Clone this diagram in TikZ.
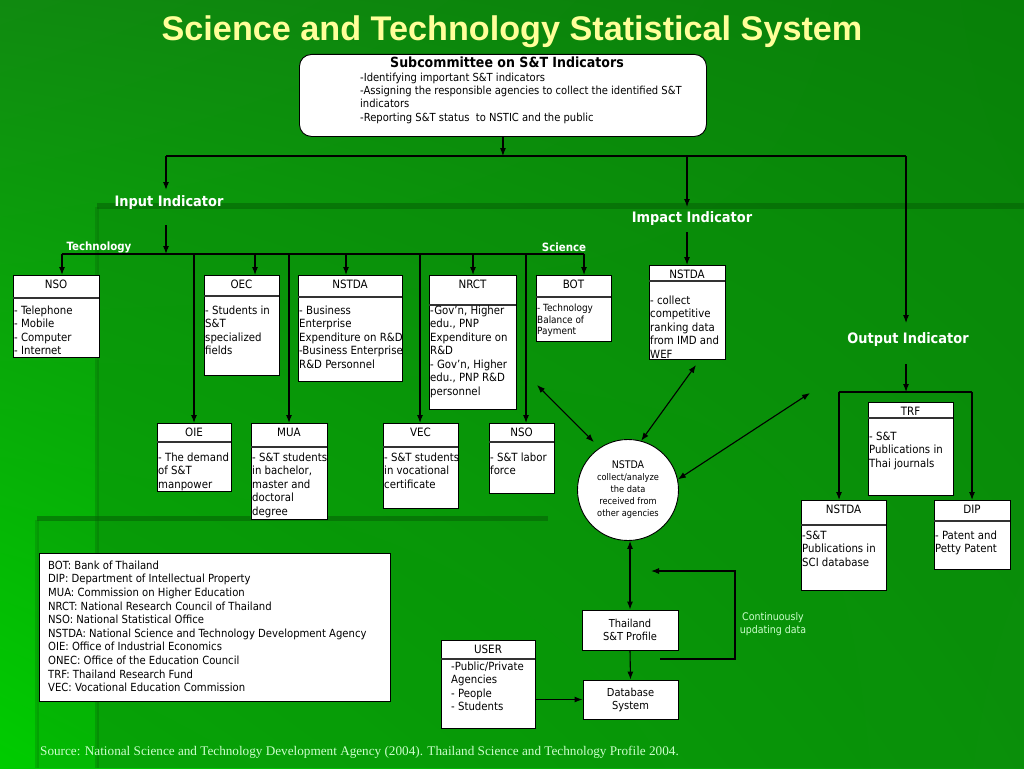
\documentclass[tikz,border=0pt]{standalone}
\usepackage{fontspec}
\setmainfont{DejaVu Sans Condensed}
\newfontfamily\titlefont{Liberation Sans}
\newfontfamily\srcfont{Liberation Serif}
\usetikzlibrary{arrows.meta,calc,shadings}
\definecolor{bgUL}{RGB}{16,138,16}
\definecolor{bgUR}{RGB}{8,128,8}
\definecolor{bgLL}{RGB}{0,204,0}
\definecolor{bgLR}{RGB}{10,150,10}
\definecolor{bgDark}{RGB}{5,100,5}
\definecolor{bgMid}{RGB}{10,140,10}
\definecolor{titleyellow}{RGB}{255,255,153}
\definecolor{palegreen}{RGB}{204,255,204}
\tikzset{
  box/.style={draw=black, fill=white, line width=0.9pt, inner sep=0pt},
  sep/.style={line width=1.4pt, draw=black!80},
  hdr/.style={font=\fontsize{11.5}{13}\selectfont, inner sep=0pt},
  bodyfnt/.style={font=\fontsize{11.3}{13.5}\selectfont},
  bodyx/.style={},
  body/.style={bodyfnt, inner sep=0pt, align=left, anchor=north west, bodyx},
  arr/.style={-{Latex[length=8pt,width=6pt]}, line width=1.1pt},
  darr/.style={{Latex[length=8pt,width=6pt]}-{Latex[length=8pt,width=6pt]}, line width=1.1pt},
  ln/.style={line width=1.1pt},
  lbl/.style={text=white, font=\bfseries\fontsize{14.4}{16}\selectfont, inner sep=1pt},
  smalllbl/.style={text=white, font=\bfseries\fontsize{11.4}{13}\selectfont, inner sep=1pt},
}
% name, x1, y1, x2, y2, yline, yfirst, title, body
\newcommand\ibox[9]{%
  \node[box, anchor=north west, minimum width={(#4-#2)*1pt}, minimum height={(#5-#3)*1pt}] (#1) at (#2,#3) {};
  \draw[sep] (#2,#6) -- (#4,#6);
  \node[hdr] (#1-t) at ({(#2+#4)/2},{#3+9.5}) {#8};
  \node[body] (#1-b) at ({#2+1},{#7-5.5}) {\strut #9};
}
\begin{document}
\begin{tikzpicture}[x=1pt,y=-1pt, every node/.style={inner sep=0pt}]
\useasboundingbox (0,0) rectangle (1024,768);
% background
\shade[upper left=bgUL, upper right=bgUR, lower left=bgLL, lower right=bgLR] (0,0) rectangle (1024,768);
\fill[bgMid, opacity=0.45] (97,207) rectangle (1024,768);
\fill[bgMid, opacity=0.25] (37,520) rectangle (1024,768);
\fill[bgDark, opacity=0.6] (97,203) rectangle (1024,209);
\fill[bgDark, opacity=0.6] (37,516) rectangle (548,521);
\fill[bgDark, opacity=0.3] (95,207) rectangle (99,768);
\fill[bgDark, opacity=0.25] (35,520) rectangle (39,768);

% title
\node[font=\titlefont\bfseries\fontsize{34.2}{38}\selectfont, text=titleyellow] (title) at (512,32) {Science and Technology Statistical System};

% subcommittee
\node[draw=black, fill=white, rounded corners=12pt, line width=0.9pt, anchor=north west, minimum width=407pt, minimum height=82pt] (sub) at (299,54) {};
\node[font=\bfseries\fontsize{14}{16}\selectfont] (sub-t) at (507,62) {Subcommittee on S\&T Indicators};
\node[body, font=\fontsize{11.1}{13.4}\selectfont] (sub-b) at (360,71.5) {\strut -Identifying important S\&T indicators\\-Assigning the responsible agencies to collect the identified S\&T\\indicators\\-Reporting S\&T status\ \ to NSTIC and the public};

% labels
\node[lbl] (inp) at (169,203) {Input Indicator};
\node[lbl] (imp) at (692,219) {Impact Indicator};
\node[lbl] (outp) at (908,340) {Output Indicator};
\node[smalllbl] (tech) at (99,247) {Technology};
\node[smalllbl] (sci) at (564,247) {Science};

% input boxes, top row
\ibox{nso}{13}{275}{99}{357}{298}{310}{NSO}{- Telephone\\- Mobile\\- Computer\\- Internet}
\ibox{oec}{204}{275}{279}{375}{296}{310}{OEC}{- Students in\\S\&T\\specialized\\fields}
\ibox{nstdaB}{298}{275}{402}{381}{297}{310}{NSTDA}{- Business\\Enterprise\\Expenditure on R\&D\\-Business Enterprise\\R\&D Personnel}
\ibox{nrct}{429}{275}{516}{409}{305}{310}{NRCT}{-Gov’n, Higher\\edu., PNP\\Expenditure on\\R\&D\\- Gov’n, Higher\\edu., PNP R\&D\\personnel}
\tikzset{bodyfnt/.style={font=\fontsize{9.9}{11.5}\selectfont}}
\ibox{bot}{536}{275}{611}{341}{297}{309}{BOT}{- Technology\\Balance of\\Payment}
\tikzset{bodyfnt/.style={font=\fontsize{11.3}{13.5}\selectfont}}
% bottom row
\ibox{oie}{157}{423}{231}{491}{442}{457}{OIE}{- The demand\\of S\&T\\manpower}
\ibox{mua}{251}{423}{327}{519}{447}{457}{MUA}{- S\&T students\\in bachelor,\\master and\\doctoral\\degree}
\ibox{vec}{383}{423}{458}{508}{447}{457}{VEC}{- S\&T students\\in vocational\\certificate}
\ibox{nsoL}{489}{423}{554}{493}{442}{457}{NSO}{- S\&T labor\\force}
% impact
\ibox{nstdaI}{649}{265}{725}{359}{281}{300}{NSTDA}{- collect\\competitive\\ranking data\\from IMD and\\WEF}
% output
\ibox{trf}{868}{402}{953}{495}{418}{436}{TRF}{- S\&T\\Publications in\\Thai journals}
\ibox{nstdaS}{801}{500}{886}{590}{525}{535}{NSTDA}{-S\&T\\Publications in\\SCI database}
\ibox{dip}{934}{500}{1010}{569}{521}{535}{DIP}{- Patent and\\Petty Patent}
% user
\tikzset{bodyx/.style={xshift=9pt}}
\ibox{user}{441}{640}{535}{728}{659}{666}{USER}{-Public/Private\\Agencies\\- People\\- Students}
\tikzset{bodyx/.style={}}

% circle
\node[circle, draw=black, fill=white, line width=0.9pt, minimum size=101pt, align=center, font=\fontsize{9.2}{12}\selectfont] (circ) at (628,490) {{\fontsize{10.5}{12}\selectfont NSTDA}\\collect/analyze\\the data\\received from\\other agencies};

% profile and database
\node[box, minimum width=96pt, minimum height=40pt, align=center, font=\fontsize{11}{13}\selectfont] (thai) at (630,630) {Thailand\\S\&T Profile};
\node[box, minimum width=95pt, minimum height=39pt, align=center, font=\fontsize{11}{13}\selectfont] (db) at (630.5,699.5) {Database\\System};
\node[text=palegreen, font=\fontsize{10.5}{12.7}\selectfont, align=center] (cont) at (773,624) {Continuously\\updating data};

% legend
\node[box, anchor=north west, minimum width=351pt, minimum height=148pt] (legend) at (39,553) {};
\node[body, font=\fontsize{11.2}{13.6}\selectfont] (legend-t) at (48,559.5) {\strut BOT: Bank of Thailand\\DIP: Department of Intellectual Property\\MUA: Commission on Higher Education\\NRCT: National Research Council of Thailand\\NSO: National Statistical Office\\NSTDA: National Science and Technology Development Agency\\OIE: Office of Industrial Economics\\ONEC: Office of the Education Council\\TRF: Thailand Research Fund\\VEC: Vocational Education Commission};

% source
\node[anchor=west, font=\srcfont\fontsize{13.2}{15}\selectfont, text=palegreen] (src) at (40,752) {Source: National Science and Technology Development Agency (2004). Thailand Science and Technology Profile 2004.};

% connectors: top level
\coordinate (b1L) at (166,156);
\coordinate (b1I) at (687,156);
\coordinate (b1R) at (906,156);
\draw[ln] (b1L) -- (b1R);
\draw[arr] (sub.south) -- (sub.south |- b1L);
\coordinate (inA) at (166,190);
\coordinate (inB) at (166,225);
\draw[arr] (b1L) -- (inA);
\coordinate (t2L) at (62,254);
\coordinate (t2R) at (584,254);
\draw[ln] (t2L) -- (t2R);
\draw[arr] (inB) -- (inB |- t2L);
\foreach \xx/\tg in {62/nso,194/oie,255/oec,289/mua,346/nstdaB,420/vec,473/nrct,526/nsoL,584/bot}{
  \draw[arr] (t2L -| \xx,0) -- (\tg.north -| \xx,0);
}
% impact
\coordinate (imA) at (687,207);
\coordinate (imB) at (687,232);
\draw[arr] (b1I) -- (imA);
\draw[arr] (imB) -- (imB |- nstdaI.north);
% output
\coordinate (ouA) at (906,323);
\coordinate (ouB) at (906,364);
\draw[arr] (b1R) -- (ouA);
\coordinate (t3L) at (839,392);
\coordinate (t3R) at (972,392);
\draw[ln] (t3L) -- (t3R);
\draw[arr] (ouB) -- (ouB |- t3L);
\draw[arr] (t3L) -- (t3L |- nstdaS.north);
\draw[arr] (t3R) -- (t3R |- dip.north);
% double arrows to circle
\coordinate (fe1) at (537,385);
\coordinate (fe2) at (696,365);
\coordinate (fe3) at (810,393);
\draw[darr, shorten >=8pt] (fe1) -- (circ.124);
\draw[darr] (fe2) -- (circ.75);
\draw[darr] (fe3) -- (circ.12);
\draw[darr] (thai.north |- circ.south) -- (thai.north);
\draw[arr] (thai.south) -- (db.north);
\coordinate (lpA) at (660,659);
\coordinate (lpC) at (735,659);
\coordinate (lpB) at (651,571);
\draw[arr] (lpA) -- (lpC) |- (lpB);
\draw[arr] (user.east |- db.west) -- (db.west);
\end{tikzpicture}
\end{document}
